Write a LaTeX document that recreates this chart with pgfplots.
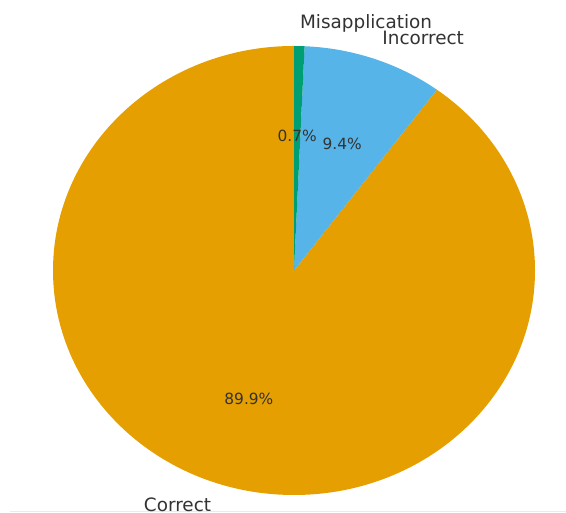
\documentclass[border=0pt]{standalone}
\usepackage{pgfplots}
\pgfplotsset{compat=1.18}
\usepackage{pgfplotstable}
\usepackage{fontspec}
\setmainfont{DejaVu Sans}
\definecolor{cOrange}{HTML}{E69F00}
\definecolor{cBlue}{HTML}{56B4E9}
\definecolor{cGreen}{HTML}{009E73}
\definecolor{txt}{HTML}{333333}
\pgfplotstableread{
label value
Correct 89.9
Incorrect 9.4
Misapplication 0.7
}\piedata
\pgfplotstablegetelem{0}{value}\of\piedata \let\vA\pgfplotsretval
\pgfplotstablegetelem{1}{value}\of\piedata \let\vB\pgfplotsretval
\pgfplotstablegetelem{2}{value}\of\piedata \let\vC\pgfplotsretval
\pgfmathsetmacro\aA{90}
\pgfmathsetmacro\aB{\aA+3.6*\vA}
\pgfmathsetmacro\aC{\aB+3.6*\vB}
\pgfmathsetmacro\aD{\aC+3.6*\vC}
\pgfmathsetmacro\mA{(\aA+\aB)/2}
\pgfmathsetmacro\mB{(\aB+\aC)/2}
\pgfmathsetmacro\mC{(\aC+\aD)/2}
\def\cx{294}\def\cy{242.5}\def\rx{241}\def\ry{224.5}
\begin{document}
\begin{tikzpicture}
\path[use as bounding box] (0,0) rectangle (566pt,513pt);
\clip (0,0) rectangle (566pt,513pt);
\begin{axis}[scale only axis, width=566pt, height=513pt,
  xmin=0, xmax=566, ymin=0, ymax=513, hide axis, clip=false]
\fill[cOrange] (axis cs:\cx,\cy) -- (axis cs:{\cx+\rx*cos(\aA)},{\cy+\ry*sin(\aA)})
  arc[start angle=\aA, end angle=\aB, x radius=\rx pt, y radius=\ry pt] -- cycle;
\fill[cBlue] (axis cs:\cx,\cy) -- (axis cs:{\cx+\rx*cos(\aB)},{\cy+\ry*sin(\aB)})
  arc[start angle=\aB, end angle=\aC, x radius=\rx pt, y radius=\ry pt] -- cycle;
\fill[cGreen] (axis cs:\cx,\cy) -- (axis cs:{\cx+\rx*cos(\aC)},{\cy+\ry*sin(\aC)})
  arc[start angle=\aC, end angle=\aD, x radius=\rx pt, y radius=\ry pt] -- cycle;
% faint bottom rule
\draw[black!8, line width=1.5pt] (axis cs:10,1.5) -- (axis cs:566,1.5);
% labels
\node[anchor=east, inner sep=0pt, text=txt, font=\fontsize{18.4}{22}\selectfont]
  at (axis cs:{\cx+1.1*\rx*cos(\mA)},{\cy+1.1*\ry*sin(\mA)}) {Correct};
\node[anchor=west, inner sep=0pt, text=txt, font=\fontsize{18.4}{22}\selectfont]
  at (axis cs:{\cx+1.1*\rx*cos(\mB)},{\cy+1.1*\ry*sin(\mB)}) {Incorrect};
\node[anchor=west, inner sep=0pt, text=txt, font=\fontsize{18.4}{22}\selectfont]
  at (axis cs:{\cx+1.1*\rx*cos(\mC)},{\cy+1.1*\ry*sin(\mC)}) {Misapplication};
% percentages
\node[inner sep=0pt, text=txt, font=\fontsize{15.4}{18}\selectfont]
  at (axis cs:{\cx+0.6*\rx*cos(\mA)},{\cy+0.6*\ry*sin(\mA)}) {\vA\%};
\node[inner sep=0pt, text=txt, font=\fontsize{15.4}{18}\selectfont]
  at (axis cs:{\cx+0.6*\rx*cos(\mB)},{\cy+0.6*\ry*sin(\mB)}) {\vB\%};
\node[inner sep=0pt, text=txt, font=\fontsize{15.4}{18}\selectfont]
  at (axis cs:{\cx+0.6*\rx*cos(\mC)},{\cy+0.6*\ry*sin(\mC)}) {\vC\%};
\end{axis}
\end{tikzpicture}
\end{document}
